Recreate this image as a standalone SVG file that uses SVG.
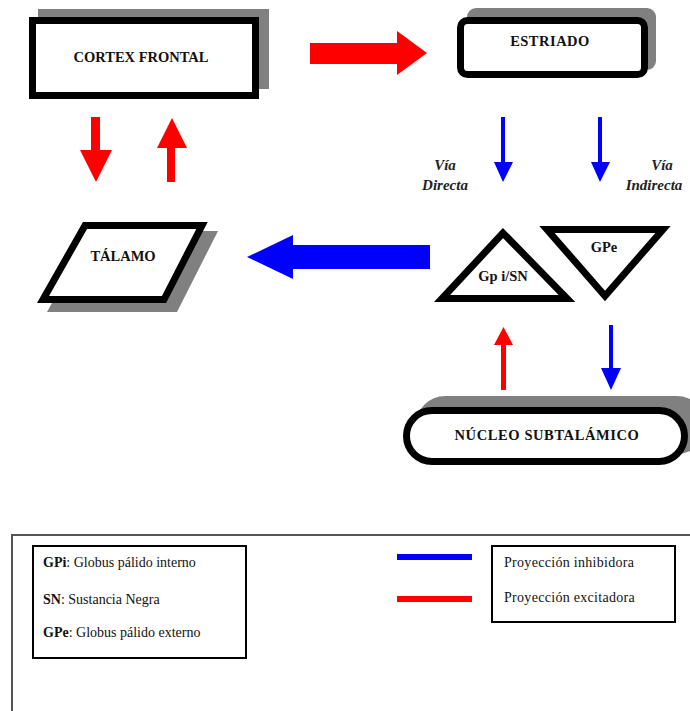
<svg xmlns="http://www.w3.org/2000/svg" width="690" height="711" viewBox="0 0 690 711">
<style>
.shadow{fill:#808080;stroke:none}
.node{fill:#fff;stroke:#000;stroke-width:7;stroke-linejoin:miter}
.lbl{font-family:"Liberation Serif","DejaVu Serif",serif;font-weight:bold;font-size:14.5px;fill:#111;text-anchor:middle}
.via{font-family:"Liberation Serif","DejaVu Serif",serif;font-weight:bold;font-style:italic;font-size:15px;fill:#222;text-anchor:middle}
.leg{font-family:"Liberation Serif","DejaVu Serif",serif;font-size:14px;fill:#111}
.red{fill:#ff0000}
.blue{fill:#0000ff}
</style>
<rect width="690" height="711" fill="#fff"/>
<g id="cortex">
<rect class="shadow" x="38" y="9" width="231" height="80"/>
<rect class="node" x="32.5" y="20.5" width="223" height="75"/>
<text class="lbl" x="141" y="62">CORTEX FRONTAL</text>
</g>
<g id="estriado">
<rect class="shadow" x="467" y="8" width="189" height="62" rx="9"/>
<rect class="node" x="460.5" y="20.5" width="184" height="54" rx="7"/>
<text class="lbl" x="550" y="46" letter-spacing="0.5">ESTRIADO</text>
</g>
<g id="talamo">
<polygon class="shadow" points="92,231 218,231 177,312 47,312"/>
<polygon class="node" points="85,225.5 202,225.5 164,299.5 43,299.5"/>
<text class="lbl" x="123" y="261">TÁLAMO</text>
</g>
<g id="gpi">
<polygon class="node" points="503,233 442,298.5 567,298.5"/>
<text class="lbl" x="503" y="281" font-size="13">Gp i/SN</text>
</g>
<g id="gpe">
<polygon class="node" points="547,229.5 663,229.5 605,296"/>
<text class="lbl" x="604" y="252" font-size="13">GPe</text>
</g>
<g id="nucleo">
<rect class="shadow" x="416" y="396" width="290" height="58" rx="29"/>
<rect class="node" x="406.5" y="410.5" width="278" height="51" rx="25.5"/>
<text class="lbl" x="547" y="440" font-size="15.5" letter-spacing="0.6">NÚCLEO SUBTALÁMICO</text>
</g>
<g id="connectors">
<polygon class="red" points="310,43 397,43 397,31 427,53 397,75 397,64 310,64"/>
<polygon class="red" points="91,117 100,117 100,150 112,150 96,182 80,150 91,150"/>
<polygon class="red" points="167,182 175,182 175,148 187,148 172,118 157,148 167,148"/>
<polygon class="blue" points="430,245 293,245 293,235 247,257 293,279 293,269 430,269"/>
<polygon class="blue" points="501,117 505,117 505,162 513,162 503,182 494,162 501,162"/>
<polygon class="blue" points="598,117 602,117 602,162 610,162 600,182 591,162 598,162"/>
<polygon class="red" points="501,390 506,390 506,345 513,345 503.5,327 494,345 501,345"/>
<polygon class="blue" points="609,325 613,325 613,368 621,368 611,390 601,368 609,368"/>
<text class="via" x="445" y="170">Vía</text>
<text class="via" x="445" y="190">Directa</text>
<text class="via" x="662" y="170">Vía</text>
<text class="via" x="654" y="190">Indirecta</text>
</g>
<g id="legend">
<path d="M12,711 V535 H690" fill="none" stroke="#555" stroke-width="2"/>
<rect x="33" y="546" width="213" height="112" fill="#fff" stroke="#000" stroke-width="2"/>
<text class="leg" x="43" y="567"><tspan font-weight="bold">GPi</tspan>: Globus pálido interno</text>
<text class="leg" x="43" y="604"><tspan font-weight="bold">SN</tspan>: Sustancia Negra</text>
<text class="leg" x="43" y="637"><tspan font-weight="bold">GPe</tspan>: Globus pálido externo</text>
<line x1="397" y1="557" x2="472" y2="557" stroke="#0000ff" stroke-width="6"/>
<line x1="397" y1="599" x2="472" y2="599" stroke="#ff0000" stroke-width="6"/>
<rect x="492" y="546" width="183" height="76" fill="#fff" stroke="#000" stroke-width="2"/>
<text class="leg" x="504" y="567" letter-spacing="0.3">Proyección inhibidora</text>
<text class="leg" x="504" y="602" letter-spacing="0.3">Proyección excitadora</text>
</g>
</svg>
